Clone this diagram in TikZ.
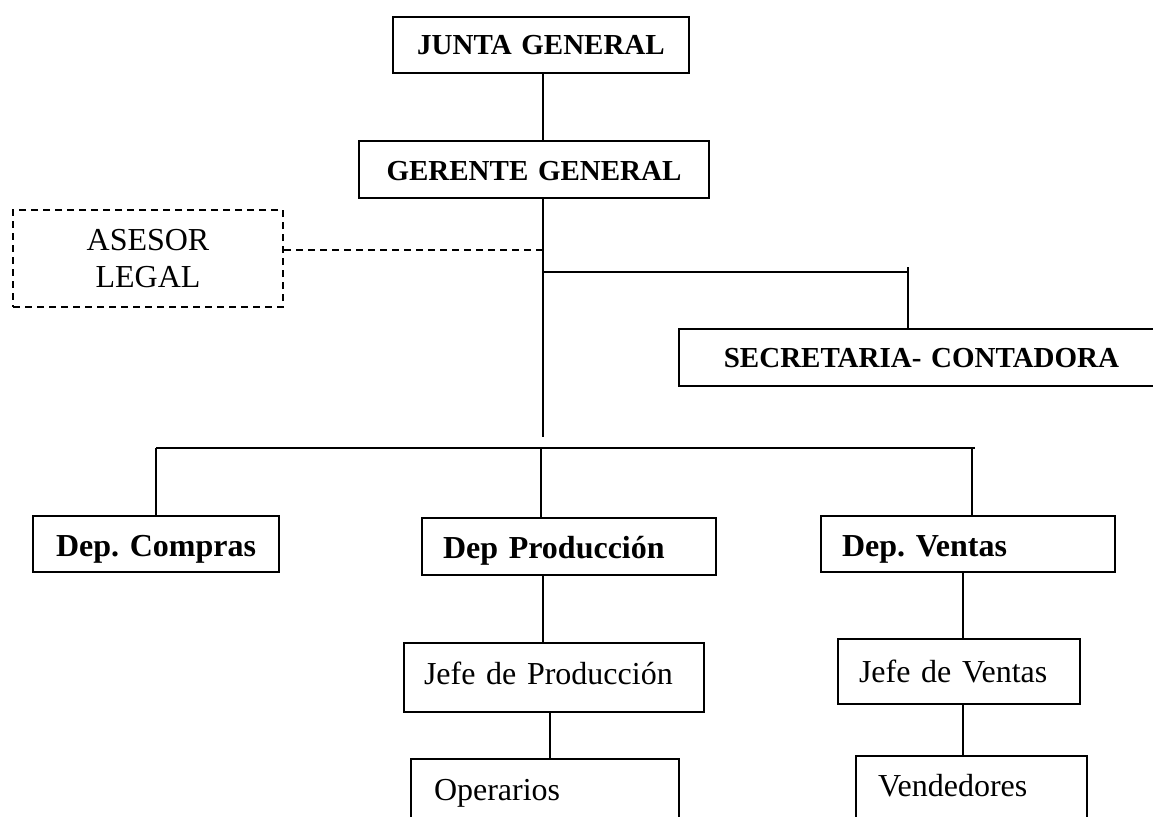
\documentclass[tikz,border=0pt]{standalone}
\usepackage{fontspec}
\setmainfont{Liberation Serif}
\usetikzlibrary{positioning}
\frenchspacing

\begin{document}
\begin{tikzpicture}[x=0.5pt, y=-0.5pt, line width=1pt,
  every node/.style={font=\fontsize{16}{18.5}\selectfont},
  box/.style={draw, line width=1pt, anchor=base west, inner ysep=0pt, align=left},
  head/.style={box, align=center, inner xsep=0pt, font=\fontsize{14.5}{17}\selectfont\bfseries},
  dept/.style={box, font=\fontsize{16}{18.5}\selectfont\bfseries}]

\useasboundingbox (0,0) rectangle (1153,816);
\clip (0,0) rectangle (1153,816);

% upper levels
\node[head, text width=148pt, text height=18.5pt, text depth=9.5pt] (junta) at (392,54) {JUNTA GENERAL};
\node[head, text width=175pt, text height=19.5pt, text depth=9pt] (gerente) at (358,180) {GERENTE GENERAL};
\node[box, dashed, dash pattern=on 3.5pt off 2.5pt, anchor=center, align=center, text width=135pt, inner xsep=0pt, minimum height=48.5pt] (asesor) at (148,258.5) {ASESOR\\LEGAL};
\node[head, text width=242.5pt, text height=19pt, text depth=9.5pt] (secretaria) at (678,367) {SECRETARIA- CONTADORA};

% departments
\node[dept, align=center, inner xsep=0pt, text width=123pt, text height=20pt, text depth=8pt] (compras) at (32,556) {Dep. Compras};
\node[dept, inner xsep=10.5pt, text width=126pt, text height=20pt, text depth=8.5pt] (produccion) at (421,558) {Dep Producción};
\node[dept, inner xsep=10.5pt, text width=126pt, text height=20pt, text depth=8pt] (ventas) at (820,556) {Dep. Ventas};

% staff
\node[box, inner xsep=10pt, text width=130pt, text height=20.5pt, text depth=14pt] (jefeprod) at (403,684) {Jefe de Producción};
\node[box, inner xsep=11.5pt, text width=111pt, text height=20.5pt, text depth=11pt] (operarios) at (410,800) {Operarios};
\node[box, inner xsep=10.5pt, text width=100pt, text height=21.5pt, text depth=11pt] (jefeventas) at (837,682) {Jefe de Ventas};
\node[box, inner xsep=11pt, text width=93.5pt, text height=20pt, text depth=15pt] (vendedores) at (855,796) {Vendedores};

% junctions
\coordinate (axis) at (543,437);
\coordinate (legal) at (543,250);
\coordinate (secj) at (543,272);
\coordinate (seck) at (908,272);
\coordinate (sectop) at (908,267);
\coordinate (busw) at (156,448);
\coordinate (busm) at (541,448);
\coordinate (busv) at (972,448);
\coordinate (buse) at (975,448);
\coordinate (prodline) at (550,700);
\coordinate (ventline) at (963,600);

% connectors
\draw (axis |- junta.south) -- (axis |- gerente.north);
\draw (axis |- gerente.south) -- (axis);
\draw[dashed, dash pattern=on 3.5pt off 2.5pt] (asesor.east |- legal) -- (legal);
\draw (secj) -- (seck);
\draw (sectop) -- (sectop |- secretaria.north);
\draw (busw) -- (buse);
\draw (busw) -- (busw |- compras.north);
\draw (busm) -- (busm |- produccion.north);
\draw (busv) -- (busv |- ventas.north);
\draw (axis |- produccion.south) -- (axis |- jefeprod.north);
\draw (prodline |- jefeprod.south) -- (prodline |- operarios.north);
\draw (ventline |- ventas.south) -- (ventline |- jefeventas.north);
\draw (ventline |- jefeventas.south) -- (ventline |- vendedores.north);
\end{tikzpicture}
\end{document}
